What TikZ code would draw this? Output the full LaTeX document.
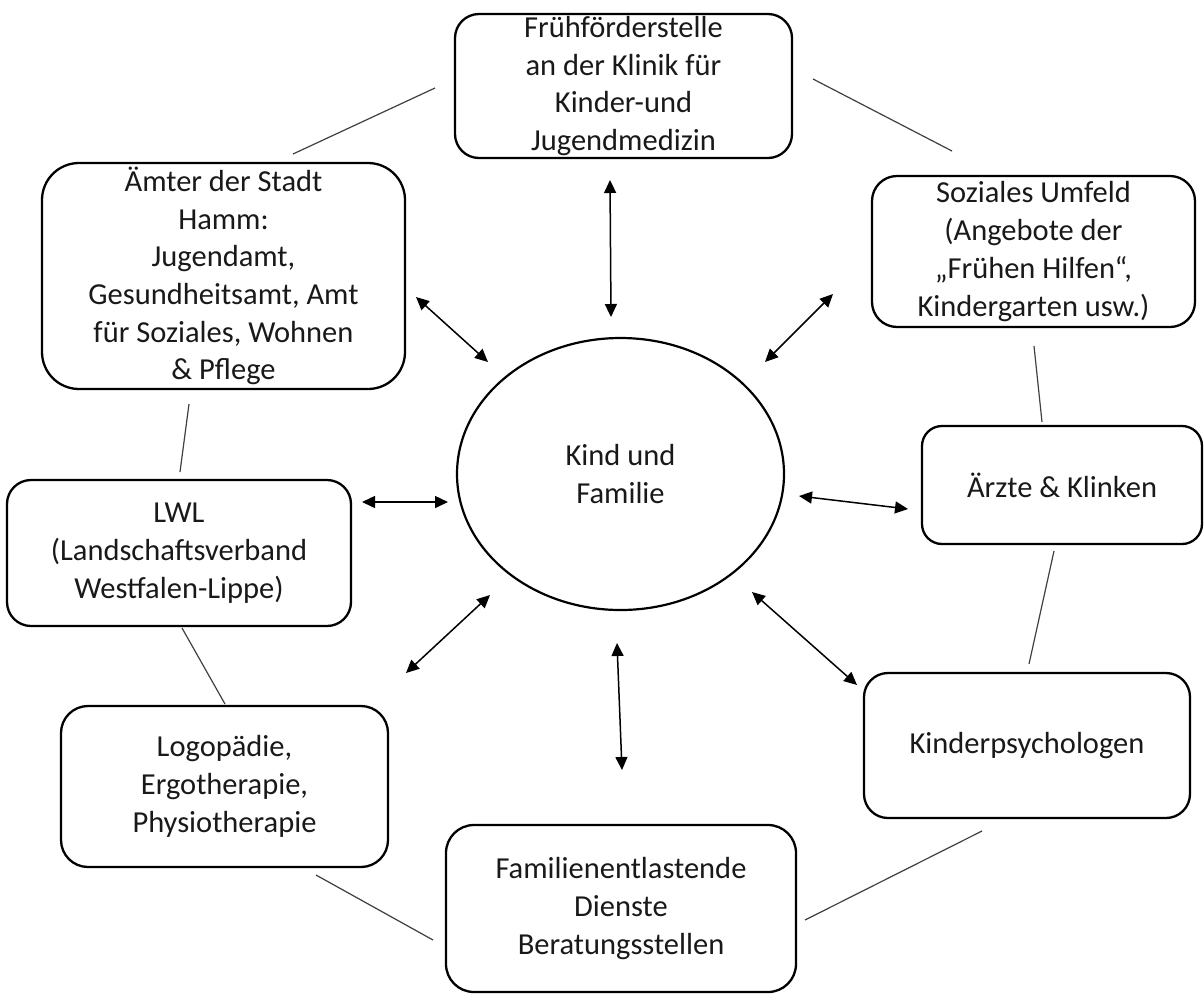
\documentclass[tikz,border=0pt]{standalone}
\usepackage{fontspec}
\setmainfont{Carlito}
\usetikzlibrary{arrows.meta,shapes.geometric}
\newcommand{\bodyfont}{\fontsize{30.5}{37.7}\selectfont}
\tikzset{
  entity/.style={draw=black, line width=2.3pt, rounded corners=#1, align=center,
    inner sep=0pt, font=\bodyfont, text=black!90},
  entity/.default=24pt,
  link/.style={draw=black!75, line width=1.2pt},
  rel/.style={draw=black, line width=1.5pt, {Triangle[length=13pt,width=12pt]}-{Triangle[length=13pt,width=12pt]}}
}
\begin{document}
\begin{tikzpicture}[x=1pt,y=-1pt]
\useasboundingbox (0,0) rectangle (1204,997);
\fill[white] (0,0) rectangle (1204,997);

% nodes
\node[ellipse, draw=black, line width=2.2pt, minimum width=327pt, minimum height=272pt,
      inner sep=0pt, align=center, font=\bodyfont, text=black!90] (kf) at (620.5,474) {Kind und\\Familie};

\node[entity=24pt, minimum width=337pt, minimum height=144pt] (fr) at (623.5,86)
  {Frühförderstelle\\an der Klinik für\\Kinder-und\\Jugendmedizin};
\node[entity=37pt, minimum width=363pt, minimum height=226pt] (am) at (223.5,276)
  {Ämter der Stadt\\Hamm:\\Jugendamt,\\Gesundheitsamt, Amt\\für Soziales, Wohnen\\\& Pflege};
\node[entity=25pt, minimum width=323pt, minimum height=151pt] (so) at (1033.5,251.5)
  {Soziales Umfeld\\(Angebote der\\„Frühen Hilfen“,\\Kindergarten usw.)};
\node[entity=20pt, minimum width=280pt, minimum height=118pt] (ar) at (1062,485)
  {Ärzte \& Klinken};
\node[entity=24pt, minimum width=344pt, minimum height=146pt] (lwl) at (179,553)
  {LWL\\(Landschaftsverband\\Westfalen-Lippe)};
\node[entity=27pt, minimum width=327pt, minimum height=161pt] (lo) at (224.5,786.5)
  {Logopädie,\\Ergotherapie,\\Physiotherapie};
\node[entity=24pt, minimum width=326pt, minimum height=145pt] (kp) at (1027,745.5)
  {Kinderpsychologen};
\node[entity=28pt, minimum width=350pt, minimum height=167pt] (fa) at (621,908.5)
  {Familienentlastende\\Dienste\\Beratungsstellen};

% free ends of the plain links
\coordinate (l1a) at (435,88);   \coordinate (l1b) at (293,154);
\coordinate (l2a) at (813,79);   \coordinate (l2b) at (952,151);
\coordinate (l3a) at (1034,346); \coordinate (l3b) at (1042,422);
\coordinate (l4a) at (189,404);  \coordinate (l4b) at (180,472);
\coordinate (l5a) at (1054,551); \coordinate (l5b) at (1029,664);
\coordinate (l6a) at (182,628);  \coordinate (l6b) at (225,704);
\coordinate (l7a) at (316,875);  \coordinate (l7b) at (433,940);
\coordinate (l8a) at (982,831);  \coordinate (l8b) at (805,920);

\draw[link] (l1a) -- (l1b);
\draw[link] (l2a) -- (l2b);
\draw[link] (l3a) -- (l3b);
\draw[link] (l4a) -- (l4b);
\draw[link] (l5a) -- (l5b);
\draw[link] (l6a) -- (l6b);
\draw[link] (l7a) -- (l7b);
\draw[link] (l8a) -- (l8b);

% free ends of the double arrows
\coordinate (a1a) at (610,180);  \coordinate (a1b) at (611,317);
\coordinate (a2a) at (416,297);  \coordinate (a2b) at (488,362);
\coordinate (a3a) at (833,294);  \coordinate (a3b) at (765,362);
\coordinate (a4a) at (362,502);  \coordinate (a4b) at (448,502);
\coordinate (a5a) at (799,496);  \coordinate (a5b) at (908,509);
\coordinate (a6a) at (490,595);  \coordinate (a6b) at (406,673);
\coordinate (a7a) at (617,643);  \coordinate (a7b) at (622,770);
\coordinate (a8a) at (752,592);  \coordinate (a8b) at (857,685);

\draw[rel] (a1a) -- (a1b);
\draw[rel] (a2a) -- (a2b);
\draw[rel] (a3a) -- (a3b);
\draw[rel] (a4a) -- (a4b);
\draw[rel] (a5a) -- (a5b);
\draw[rel] (a6a) -- (a6b);
\draw[rel] (a7a) -- (a7b);
\draw[rel] (a8a) -- (a8b);
\end{tikzpicture}
\end{document}
